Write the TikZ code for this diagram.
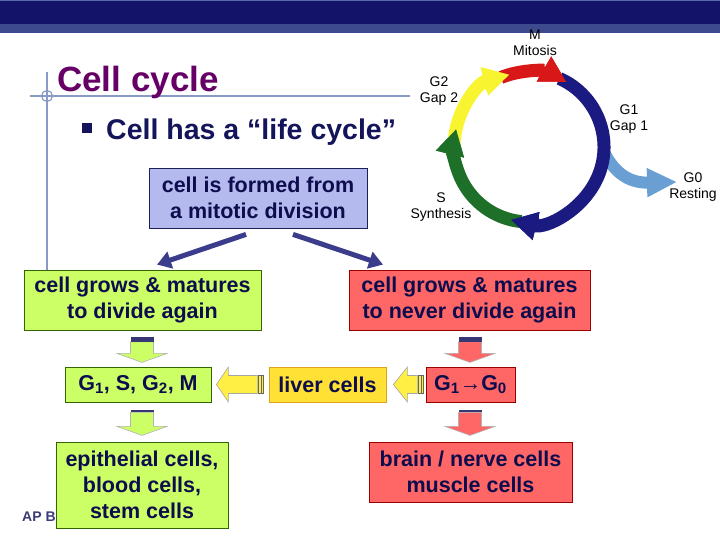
\documentclass[tikz,border=0pt]{standalone}
\usepackage{fontspec}
\setmainfont{Liberation Sans}
\usetikzlibrary{arrows.meta,calc}
\definecolor{navybar}{HTML}{13136A}
\definecolor{barlight}{HTML}{3E4A8E}
\definecolor{barline}{HTML}{5A68A8}
\definecolor{guide}{HTML}{8A9AC6}
\definecolor{titlepurple}{HTML}{660066}
\definecolor{navytext}{HTML}{14145A}
\definecolor{boxtext}{HTML}{0D0D4D}
\definecolor{bluefill}{HTML}{B4BAEE}
\definecolor{blueedge}{HTML}{1E1E5A}
\definecolor{greenfill}{HTML}{CCFF66}
\definecolor{greenedge}{HTML}{336600}
\definecolor{redfill}{HTML}{FF6666}
\definecolor{rededge}{HTML}{990000}
\definecolor{yellowfill}{HTML}{FFE135}
\definecolor{yellowedge}{HTML}{E0A020}
\definecolor{arrowyellow}{HTML}{FFEE44}
\definecolor{diagcol}{HTML}{3C3C8C}
\definecolor{cycred}{HTML}{D81818}
\definecolor{cycyellow}{HTML}{F8F430}
\definecolor{cycblue}{HTML}{1A1A80}
\definecolor{cycgreen}{HTML}{1E7028}
\definecolor{cyclight}{HTML}{6A9FD4}
\definecolor{aptext}{HTML}{3C3C78}
\tikzset{
  box/.style={draw, line width=0.8pt, inner sep=0pt, align=center,
    font=\bfseries\fontsize{21.5}{26}\selectfont, text=boxtext},
  greenbox/.style={box, fill=greenfill, draw=greenedge},
  redbox/.style={box, fill=redfill, draw=rededge},
  diag/.style={draw=diagcol, line width=5pt, -{Triangle[length=14pt,width=17pt]}},
  seg/.style={line width=13pt, -{Triangle[length=26pt,width=27pt]}},
  cyclabel/.style={align=center, font=\fontsize{14}{16}\selectfont, text=black, inner sep=0pt},
}
\newcommand{\dnarrow}[4]{%
  \begin{scope}[shift={(#1)}]
    \filldraw[fill=#2, draw=#3, line width=0.6pt] (-11.5,#4) -- (11.5,#4) -- (11.5,16) -- (25,16) -- (0,25) -- (-25,16) -- (-11.5,16) -- cycle;
    \fill[navytext!85] (-11.5,0) rectangle (11.5,#4);
  \end{scope}}
\newcommand{\lfarrow}[3]{%
  \begin{scope}[shift={(#1)}]
    \filldraw[fill=arrowyellow, draw=gray!70, line width=0.6pt] (0,0) -- (#2,-17.5) -- (#2,-9) -- (#2+#3,-9) -- (#2+#3,9) -- (#2,9) -- (#2,17.5) -- cycle;
    \filldraw[fill=arrowyellow, draw=gray!80!black, line width=0.8pt] (#2+#3+1,-9) rectangle (#2+#3+6,9);
    \draw[gray!80!black, line width=0.6pt] (#2+#3+3.5,-9) -- (#2+#3+3.5,9);
  \end{scope}}
\begin{document}
\begin{tikzpicture}[x=1pt,y=-1pt]
\useasboundingbox (0,0) rectangle (720,540);
\fill[white] (0,0) rectangle (720,540);
% top bar
\fill[navybar] (0,0) rectangle (720,24);
\fill[barline] (0,0) rectangle (720,1.5);
\fill[barlight] (0,24) rectangle (720,33);
% guide lines
\draw[guide, line width=2pt] (30,96) -- (410,96);
\draw[guide, line width=2pt] (47,72) -- (47,270);
\draw[guide, line width=1.2pt] (47,96) circle[radius=5.5];
% title
\node[anchor=base west, inner sep=0pt, text=titlepurple, font=\bfseries\fontsize{35}{40}\selectfont] (title) at (57,92) {Cell cycle};
\fill[navytext] (82,123) rectangle (92,133);
\node[anchor=base west, inner sep=0pt, text=navytext, font=\bfseries\fontsize{28.5}{32}\selectfont] (sub) at (106,140) {Cell has a “life cycle”};
\node[anchor=base west, inner sep=0pt, text=aptext, font=\bfseries\fontsize{14}{16}\selectfont] (ap) at (22,521) {AP B};
% boxes
\node[box, fill=bluefill, draw=blueedge, minimum width=218pt, minimum height=60pt] (blue) at (258,198) {cell is formed from\\a mitotic division};
\node[greenbox, minimum width=237pt, minimum height=60pt] (greenA) at (142.5,300) {cell grows \& matures\\to divide again};
\node[redbox, minimum width=241pt, minimum height=60pt] (redA) at (469.5,300) {cell grows \& matures\\to never divide again};
\node[greenbox, minimum width=146pt, minimum height=35pt] (g1) at (138,384.5) {G\textsubscript{1}, S, G\textsubscript{2}, M};
\node[box, fill=yellowfill, draw=yellowedge, minimum width=117pt, minimum height=35pt] (liver) at (327.5,384.5) {liver cells};
\node[redbox, minimum width=89pt, minimum height=35pt] (g1g0) at (470.5,384.5) {G\textsubscript{1}→G\textsubscript{0}};
\node[greenbox, minimum width=172pt, minimum height=86pt] (epi) at (142,485) {epithelial cells,\\blood cells,\\stem cells};
\node[redbox, minimum width=203pt, minimum height=60pt] (brain) at (470.5,472) {brain / nerve cells\\muscle cells};
% diagonal connectors
\draw[diag] ($(blue.south)+(-12,6)$) -- ($(greenA.north)+(14.5,-5)$);
\draw[diag] ($(blue.south)+(35,6)$) -- ($(redA.north)+(-86.5,-5)$);
% block arrows down
\coordinate (gd1) at ($(greenA.south)+(-0.5,7)$);
\coordinate (gd2) at ($(g1.south)+(4,8)$);
\coordinate (rd1) at ($(redA.south)+(0.5,7)$);
\coordinate (rd2) at ($(g1g0.south)+(-0.5,8)$);
\dnarrow{gd1}{greenfill}{gray!60}{4.5}
\dnarrow{gd2}{greenfill}{gray!60}{2}
\dnarrow{rd1}{redfill}{gray!60}{4.5}
\dnarrow{rd2}{redfill}{gray!60}{2}
% block arrows left
\coordinate (yl1) at ($(g1.east)+(5,0)$);
\coordinate (yl2) at ($(liver.east)+(7,0)$);
\lfarrow{yl1}{12}{29}
\lfarrow{yl2}{14}{10}
% cell cycle diagram
\coordinate (cc) at (529,147);
\coordinate (g0s) at (604,152);
\coordinate (g0e) at (677,182);
\draw[cyclight, line width=12pt, -{Triangle[length=30pt,width=27pt]}] (g0s) .. controls (616,176) and (632,183) .. (g0e);
\draw[seg, cycgreen]  ([shift={(cc)}]96:75) arc[start angle=96, end angle=194, radius=75];
\draw[seg, cycyellow] ([shift={(cc)}]-180:75) arc[start angle=-180, end angle=-105, radius=75];
\draw[seg, cycred]    ([shift={(cc)}]-112:75) arc[start angle=-112, end angle=-60, radius=75];
\draw[seg, cycblue]   ([shift={(cc)}]-66:75) arc[start angle=-66, end angle=104, radius=75];
\draw[seg, cycgreen]  ([shift={(cc)}]172:75) arc[start angle=172, end angle=194, radius=75];
\draw[seg, cycyellow] ([shift={(cc)}]-127:75) arc[start angle=-127, end angle=-105, radius=75];
\draw[seg, cycred]    ([shift={(cc)}]-82:75) arc[start angle=-82, end angle=-60, radius=75];
\draw[seg, cycblue]   ([shift={(cc)}]82:75) arc[start angle=82, end angle=104, radius=75];
\node[cyclabel] (lm) at (535,43) {M\\Mitosis};
\node[cyclabel] (lg2) at (439,91) {G2\\Gap 2};
\node[cyclabel] (lg1) at (629,119) {G1\\Gap 1};
\node[cyclabel] (lg0) at (693,187) {G0\\Resting};
\node[cyclabel] (ls) at (441,207) {S\\Synthesis};
\end{tikzpicture}
\end{document}
